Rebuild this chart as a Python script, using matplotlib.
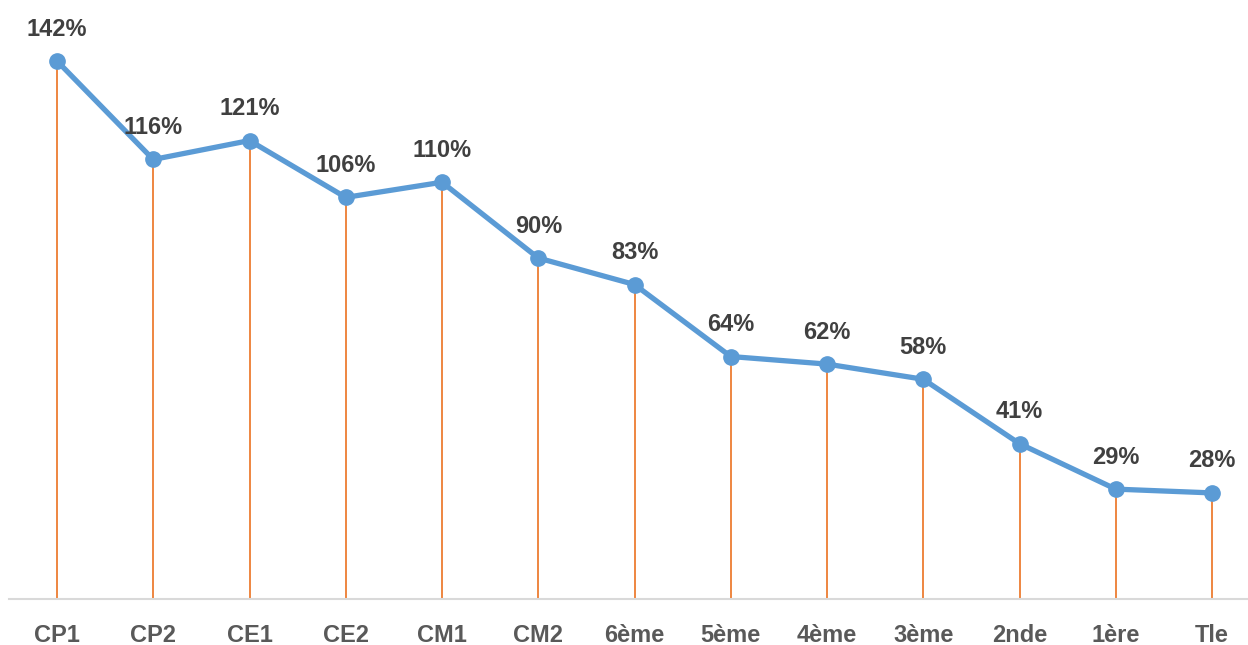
import matplotlib
matplotlib.use("Agg")
import matplotlib.pyplot as plt

categories = ["CP1", "CP2", "CE1", "CE2", "CM1", "CM2", "6ème", "5ème", "4ème", "3ème", "2nde", "1ère", "Tle"]
values = [142, 116, 121, 106, 110, 90, 83, 64, 62, 58, 41, 29, 28]
labels = [f"{v}%" for v in values]

plt.rcParams['font.family'] = ['Liberation Sans Narrow', 'Liberation Sans', 'DejaVu Sans']

W, H, DPI = 1248, 645, 100
fig = plt.figure(figsize=(W / DPI, H / DPI), dpi=DPI)

# pixel geometry
x0_px, step_px = 57, 96.25
left_px = x0_px - step_px / 2
y0_px = 599  # baseline (from top)
px_per_unit = (493 - 61) / (142 - 28)
ytop = 142 + 61 / px_per_unit

ax = fig.add_axes([left_px / W, (H - y0_px) / H, (W - left_px) / W, y0_px / H])
x = list(range(len(categories)))
ax.set_xlim(-0.5, (W - x0_px) / step_px)
ax.set_ylim(0, ytop)

ax.vlines(x, 0, values, colors="#ED7D31", linewidth=1.3, zorder=1)
ax.plot(x, values, color="#5B9BD5", linewidth=3.8, marker="o", markersize=11,
        solid_capstyle="round", zorder=3)

for xi, v, lab in zip(x, values, labels):
    ax.annotate(lab, (xi, v), xytext=(0, 23), textcoords="offset points",
                ha="center", va="center", fontsize=17, fontweight="bold",
                color="#404040", annotation_clip=False)

for s in ["top", "right", "left"]:
    ax.spines[s].set_visible(False)
ax.spines["bottom"].set_color("#D9D9D9")
ax.spines["bottom"].set_linewidth(1.5)
ax.set_yticks([])
ax.set_xticks(x)
ax.set_xticklabels(categories, fontsize=17, fontweight="bold", color="#595959")
ax.tick_params(axis="x", length=0, pad=18)

fig.savefig("out.png", dpi=DPI)
